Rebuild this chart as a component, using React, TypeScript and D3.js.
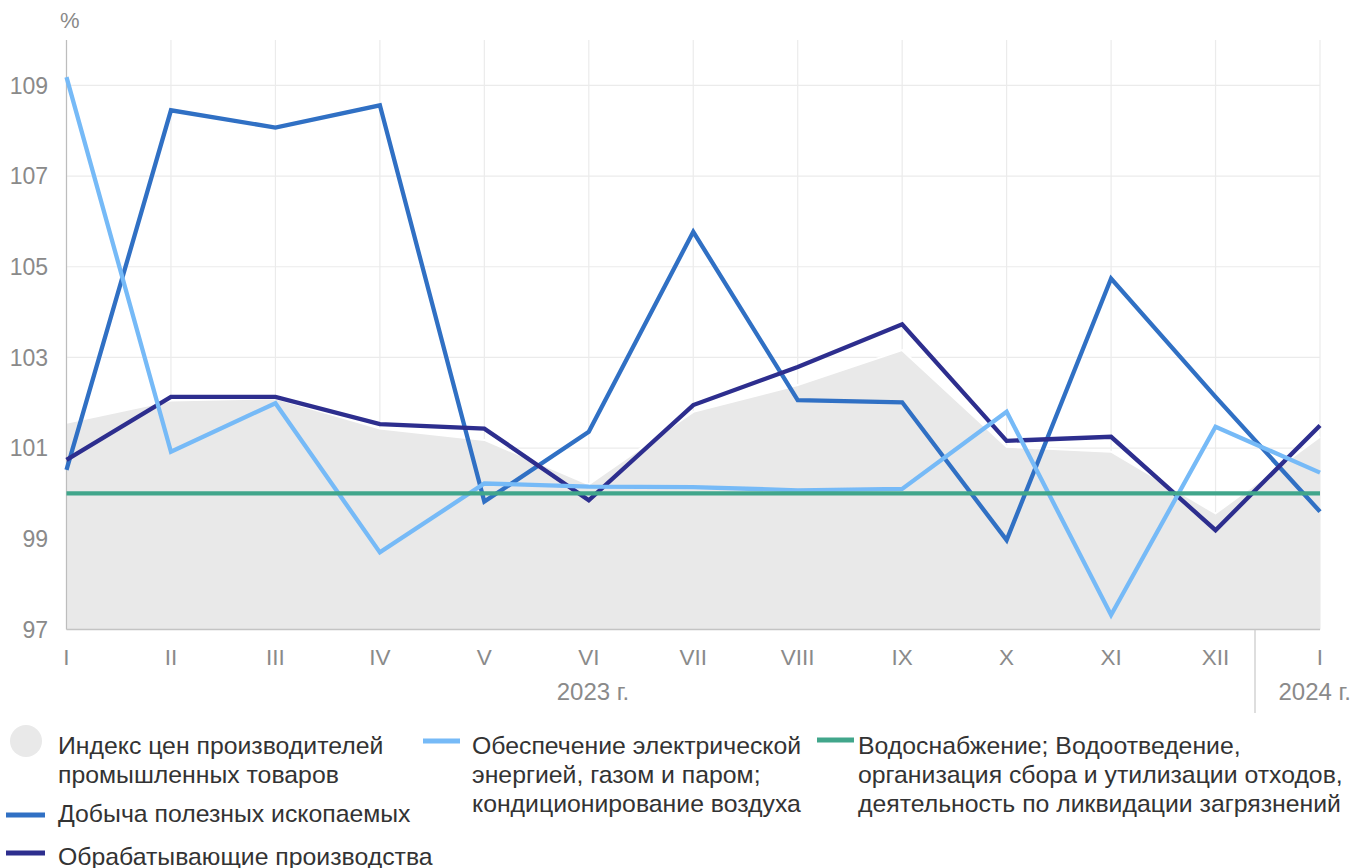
import { useMemo } from "react";
import * as d3 from "d3";

// Months (Roman numerals), Jan 2023 .. Jan 2024
const months = ["I", "II", "III", "IV", "V", "VI", "VII", "VIII", "IX", "X", "XI", "XII", "I"];
const yTicks = [97, 99, 101, 103, 105, 107, 109];

// Индекс цен производителей промышленных товаров (area)
const ppiIndex = [101.56, 102.05, 102.1, 101.43, 101.18, 100.2, 101.8, 102.39, 103.16, 101.03, 100.92, 99.56, 101.25];
// Добыча полезных ископаемых
const mining = [100.52, 108.45, 108.07, 108.56, 99.82, 101.36, 105.77, 102.06, 102.01, 98.97, 104.74, 102.13, 99.6];
// Обрабатывающие производства
const manufacturing = [100.74, 102.13, 102.13, 101.53, 101.43, 99.85, 101.95, 102.79, 103.73, 101.16, 101.25, 99.19, 101.5];
// Обеспечение электрической энергией, газом и паром
const electricity = [109.18, 100.92, 101.99, 98.7, 100.22, 100.15, 100.14, 100.07, 100.1, 101.8, 97.32, 101.47, 100.46];
// Водоснабжение; водоотведение ...
const water = [100, 100, 100, 100, 100, 100, 100, 100, 100, 100, 100, 100, 100];

const lineSeries = [
  { name: "mining", values: mining, color: "#3070c4" },
  { name: "manufacturing", values: manufacturing, color: "#2d2e8e" },
  { name: "electricity", values: electricity, color: "#76baf7" },
  { name: "water", values: water, color: "#41a68b" },
];

const FONT = "'Liberation Sans', Arial, sans-serif";
const AXIS_COLOR = "#8a8a8a";

export default function App() {
  const width = 1366;
  const height = 868;
  const left = 66.5;
  const right = 1320;
  const top = 40;
  const bottom = 629.5;

  const x = useMemo(() => d3.scaleLinear().domain([0, months.length - 1]).range([left, right]), []);
  const y = useMemo(() => d3.scaleLinear().domain([97, 110]).range([bottom, top]), []);

  const area = d3.area<number>()
    .x((_, i) => x(i))
    .y0(y(97))
    .y1((d) => y(d));
  const line = d3.line<number>().x((_, i) => x(i)).y((d) => y(d));

  const legendText = { fontFamily: FONT, fontSize: 24.8, fill: "#333" };

  return (
    <svg width={width} height={height} style={{ position: "absolute", left: 0, top: 0, background: "#fff" }}>
      {/* grid */}
      <g>
        {yTicks.slice(1).map((v) => (
          <line key={`gy-${v}`} x1={left} x2={right} y1={y(v)} y2={y(v)} stroke="#ebebeb" strokeWidth={1.2} />
        ))}
        {months.map((_, i) => (
          <line key={`gx-${i}`} x1={x(i)} x2={x(i)} y1={top} y2={bottom} stroke="#ebebeb" strokeWidth={1.2} />
        ))}
      </g>

      {/* area: ppi index */}
      <path d={area(ppiIndex) ?? ""} fill="#e9e9e9" />
      <path d={line(ppiIndex) ?? ""} fill="none" stroke="#fff" strokeWidth={2} />

      {/* axes */}
      <line x1={left} x2={left} y1={top} y2={bottom} stroke="#bdbdbd" strokeWidth={1.2} />
      <line x1={left} x2={right} y1={bottom} y2={bottom} stroke="#c4c4c4" strokeWidth={1.5} />
      <line x1={1255} x2={1255} y1={bottom} y2={713} stroke="#c8c8c8" strokeWidth={1.2} />

      {/* lines */}
      {lineSeries.map((s) => (
        <path key={s.name} d={line(s.values) ?? ""} fill="none" stroke={s.color} strokeWidth={4.3} strokeLinejoin="miter" />
      ))}

      {/* y tick labels */}
      <text x={60} y={28} fontFamily={FONT} fontSize={22} fill={AXIS_COLOR}>%</text>
      {yTicks.map((v) => (
        <text key={`yt-${v}`} x={48} y={y(v)} dy="0.36em" textAnchor="end" fontFamily={FONT} fontSize={23} fill={AXIS_COLOR}>
          {v}
        </text>
      ))}

      {/* x tick labels */}
      {months.map((m, i) => (
        <text key={`xt-${i}`} x={x(i)} y={665} textAnchor="middle" fontFamily={FONT} fontSize={22.5} fill={AXIS_COLOR}>
          {m}
        </text>
      ))}
      <text x={593} y={700} textAnchor="middle" fontFamily={FONT} fontSize={24} fill={AXIS_COLOR}>2023 г.</text>
      <text x={1351} y={700} textAnchor="end" fontFamily={FONT} fontSize={24} fill={AXIS_COLOR}>2024 г.</text>

      {/* legend */}
      <g>
        <circle cx={26} cy={741} r={16} fill="#e9e9e9" />
        <text x={58} y={745} dominantBaseline="central" style={legendText}>Индекс цен производителей</text>
        <text x={58} y={774} dominantBaseline="central" style={legendText}>промышленных товаров</text>

        <line x1={6} x2={45} y1={815} y2={815} stroke="#3070c4" strokeWidth={5} />
        <text x={58} y={813} dominantBaseline="central" style={legendText}>Добыча полезных ископаемых</text>

        <line x1={6} x2={45} y1={853} y2={853} stroke="#2d2e8e" strokeWidth={5} />
        <text x={58} y={856} dominantBaseline="central" style={legendText}>Обрабатывающие производства</text>

        <line x1={423} x2={460} y1={741} y2={741} stroke="#76baf7" strokeWidth={5} />
        <text x={472} y={745} dominantBaseline="central" style={legendText}>Обеспечение электрической</text>
        <text x={472} y={774} dominantBaseline="central" style={legendText}>энергией, газом и паром;</text>
        <text x={472} y={803} dominantBaseline="central" style={legendText}>кондиционирование воздуха</text>

        <line x1={817} x2={854} y1={740} y2={740} stroke="#41a68b" strokeWidth={5} />
        <text x={858} y={745} dominantBaseline="central" style={legendText}>Водоснабжение; Водоотведение,</text>
        <text x={858} y={774} dominantBaseline="central" style={legendText}>организация сбора и утилизации отходов,</text>
        <text x={858} y={803} dominantBaseline="central" style={legendText}>деятельность по ликвидации загрязнений</text>
      </g>
    </svg>
  );
}
